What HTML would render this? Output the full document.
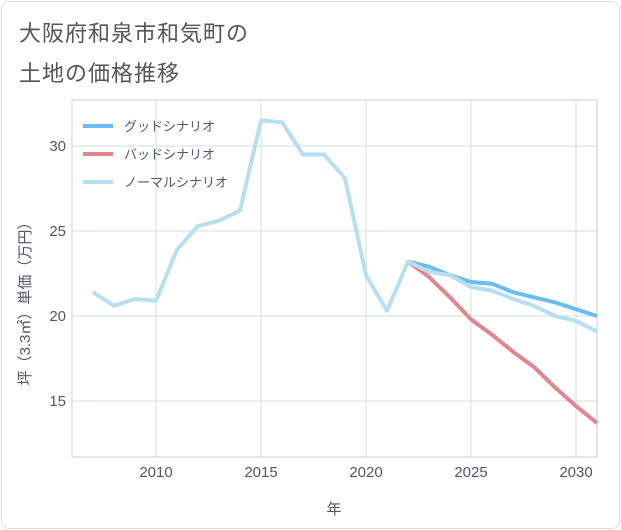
<!DOCTYPE html>
<html><head><meta charset="utf-8"><style>
body{margin:0;background:#fff;font-family:"Liberation Sans","Noto Sans CJK JP",sans-serif;}
#card{position:absolute;left:1px;top:1px;width:617px;height:526px;border:1px solid #ddd;border-radius:8px;background:#fff;}
.t{position:absolute;left:17px;font-size:22px;color:#555;letter-spacing:1px;}
</style></head><body>
<div id="card">
<div class="t" style="top:14px">大阪府和泉市和気町の</div>
<div class="t" style="top:54px">土地の価格推移</div>
</div>
<svg id="chart" width="621" height="530" style="position:absolute;left:0;top:0"></svg>
<script>
const years=[2007,2008,2009,2010,2011,2012,2013,2014,2015,2016,2017,2018,2019,2020,2021,2022,2023,2024,2025,2026,2027,2028,2029,2030,2031];
const normalVals=[21.4,20.6,21.0,20.9,23.9,25.3,25.6,26.2,31.5,31.4,29.5,29.5,28.1,22.4,20.3,23.2,22.6,22.4,21.7,21.5,21.0,20.6,20.0,19.7,19.1];
const futureYears=[2022,2023,2024,2025,2026,2027,2028,2029,2030,2031];
const goodVals=[23.2,22.9,22.4,22.0,21.9,21.4,21.1,20.8,20.4,20.0];
const badVals=[23.2,22.3,21.1,19.8,18.9,17.9,17.0,15.8,14.7,13.7];
const xTicks=[2010,2015,2020,2025,2030];
const yTicks=[15,20,25,30];
const legendLabels=["グッドシナリオ","バッドシナリオ","ノーマルシナリオ"];
const colors=["#6bbcf0","#e0868e","#b6dff0"];
const L=72,R=597,T=100,B=457;
const x=v=>93+(v-2007)*21;
const y=v=>316-(v-20)*17;
const svg=document.getElementById('chart');
const NS='http://www.w3.org/2000/svg';
function mk(tag,attrs,name){const e=document.createElementNS(NS,tag);for(const k in attrs)e.setAttribute(k,attrs[k]);


svg.appendChild(e);return e;}
mk('rect',{x:L,y:T,width:R-L,height:B-T,fill:'none',stroke:'#ccc'},'plot-area');
xTicks.forEach(t=>{mk('line',{x1:x(t),x2:x(t),y1:T,y2:B,stroke:'#d5dde5'},'x-gridline');
const tx=mk('text',{x:x(t),y:477,'text-anchor':'middle','font-size':15,fill:'#556'},'x-tick-label');tx.textContent=t;});
yTicks.forEach(t=>{mk('line',{x1:L,x2:R,y1:y(t),y2:y(t),stroke:'#d5dde5'},'y-gridline');
const tx=mk('text',{x:66,y:y(t)+5,'text-anchor':'end','font-size':15,fill:'#556'},'y-tick-label');tx.textContent=t;});
const xt=mk('text',{x:334,y:514,'text-anchor':'middle','font-size':15,fill:'#556'},'x-axis-title');xt.textContent='年';
const yt=mk('text',{x:30,y:300,'text-anchor':'middle','font-size':15,fill:'#556',transform:'rotate(-90 30 300)'},'y-axis-title');yt.textContent='坪（3.3㎡）単価（万円）';
function line(xs,vs,c,name){mk('polyline',{points:xs.map((v,i)=>x(v)+','+y(vs[i])).join(' '),fill:'none',stroke:c,'stroke-width':4,'stroke-linejoin':'round'},name);}
line(futureYears,goodVals,colors[0],'good-scenario-line');
line(futureYears,badVals,colors[1],'bad-scenario-line');
line(years,normalVals,colors[2],'normal-scenario-line');
legendLabels.forEach((s,i)=>{const yy=126+i*28;
mk('line',{x1:83,x2:113,y1:yy,y2:yy,stroke:colors[i],'stroke-width':4},'legend-swatch');
const tx=mk('text',{x:124,y:yy+5,'font-size':13,fill:'#556'},'legend-entry');tx.textContent=s;});
</script>
</body></html>
